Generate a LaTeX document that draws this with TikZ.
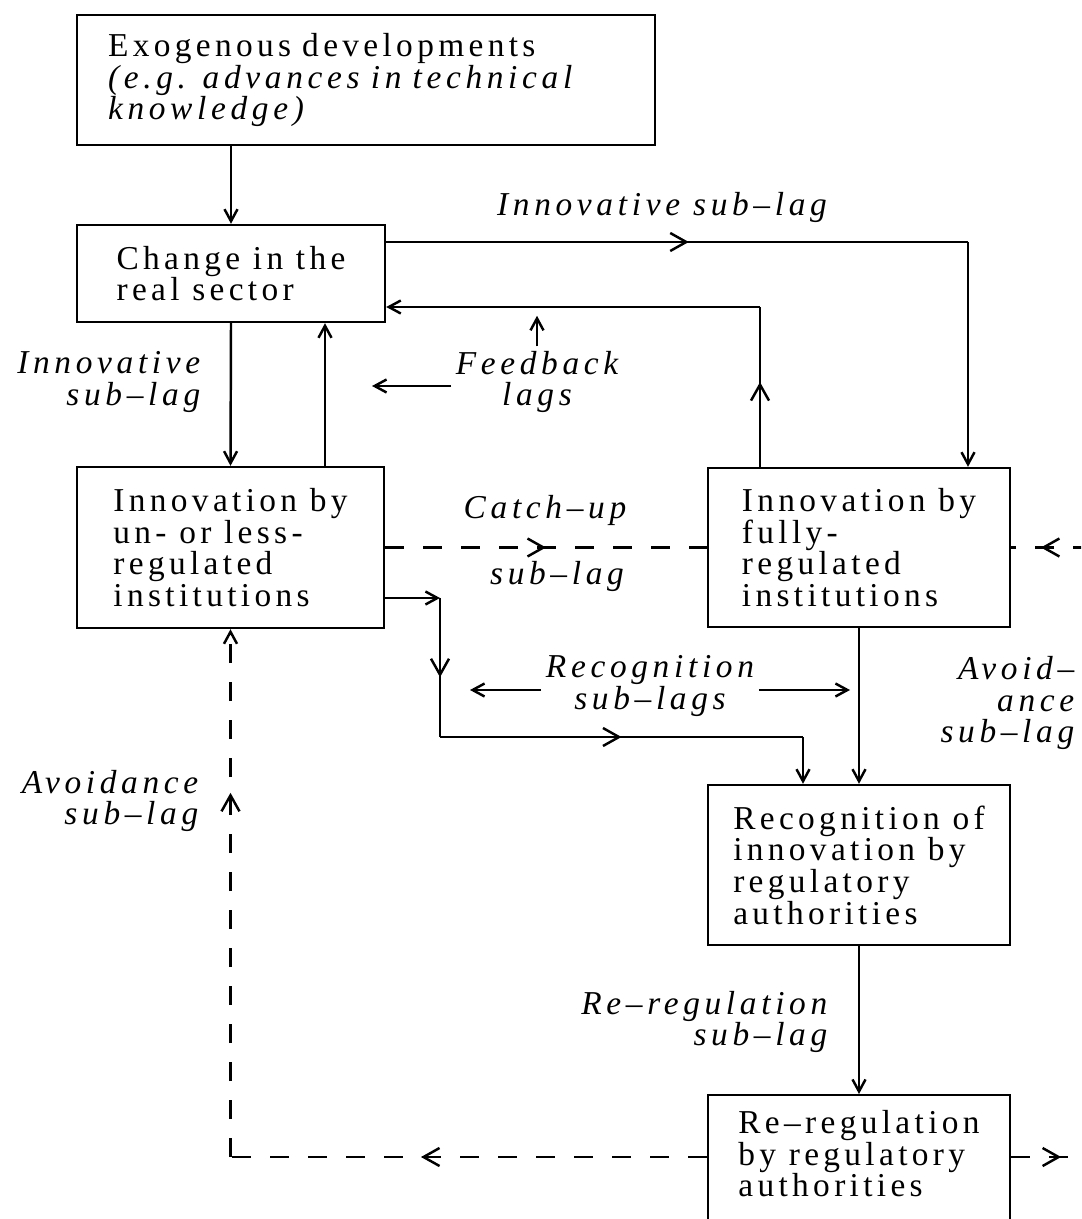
\documentclass[tikz,border=0pt]{standalone}
\usepackage{fontspec}
\setmainfont{Liberation Serif}[LetterSpace=13]
\newfontfamily\lagfont{Liberation Serif}[LetterSpace=14]
\usetikzlibrary{arrows.meta,decorations.markings}
\begin{document}
\begin{tikzpicture}[x=0.02cm,y=-0.02cm,line width=1.4pt,
  >={Straight Barb[length=0.24cm,width=0.26cm]},
  box/.style={draw,rectangle,align=left,inner xsep=0.4cm,inner ysep=0.3cm,
    font=\fontsize{19}{18}\selectfont},
  lag/.style={font=\lagfont\itshape\fontsize{19}{18}\selectfont,inner sep=2pt},
  midarr/.style={postaction={decorate},decoration={markings,
    mark=at position #1 with {\arrow{Straight Barb[length=0.32cm,width=0.36cm]}}}},
  brokenline/.style={dash pattern=on 0.38cm off 0.38cm}]
\useasboundingbox (0,0) rectangle (1081,1219);
\clip (0,0) rectangle (1081,1219);

\node[box,inner xsep=0.62cm,text width=10.32cm,minimum height=2.6cm] (1) at (366,80)
  {Exogenous developments\\{\lagfont\itshape (e.g. advances in technical}\\{\lagfont\itshape knowledge)}};
\node[box,minimum width=6.16cm,minimum height=1.94cm] (2) at (231,273.5) {Change in the\\real sector};
\node[box,minimum width=6.14cm,minimum height=3.22cm] (3) at (230.5,547.5) {Innovation by\\un- or less-\\regulated\\institutions};
\node[box,minimum width=6.04cm,minimum height=3.18cm] (4) at (859,547.5) {Innovation by\\fully-\\regulated\\institutions};
\node[box,minimum width=6.04cm,minimum height=3.2cm] (5) at (859,865) {Recognition of\\innovation by\\regulatory\\authorities};
\node[box,minimum width=6.04cm,anchor=north] (6) at (859,1094) {Re\textendash regulation\\by regulatory\\authorities\\\strut\\\strut};

% labels
\node[lag] (t) at (662,207) {Innovative sub\textendash lag};
\node[lag,align=right,anchor=east] (l) at (205,382) {Innovative\\sub\textendash lag};
\node[lag,align=center] (fb) at (537,382) {Feedback\\lags};
\node[lag] (cu) at (545,510) {Catch\textendash up};
\node[lag] (cs) at (557,576) {sub\textendash lag};
\node[lag,align=center] (rc) at (650,686) {Recognition\\sub\textendash lags};
\node[lag,align=right,anchor=east] (ar) at (1079,703) {Avoid\textendash\\ance\\sub\textendash lag};
\node[lag,align=right,anchor=east] (al) at (203,801) {Avoidance\\sub\textendash lag};
\node[lag,align=right,anchor=east] (rr) at (832,1022) {Re\textendash regulation\\sub\textendash lag};

\coordinate (a) at (968,242);
\coordinate (b) at (760,307);
\coordinate (c) at (325,400);
\coordinate (fbl) at (372,386);
\coordinate (e) at (1130,547.5);
\coordinate (f) at (440,598);
\coordinate (g) at (440,737);
\coordinate (h) at (803,737);
\coordinate (rcl) at (470,690);
\coordinate (rcr) at (850,690);
\coordinate (k) at (230.5,1157);
\coordinate (m) at (1130,1157);

% solid connectors
\path[draw,->] (1.south -| 2) -- (2.north);
\path[draw,midarr=0.52] (2.east |- a) -- (a);
\path[draw,->] (a) -- (4.north -| a);
\path[draw,midarr=0.53] (4.north -| b) -- (b);
\path[draw,->] (b) -- (2.east |- b);
\path[draw,->] (2.south) -- (3.north);
\path[draw,->] (3.north -| c) -- (2.south -| c);
\path[draw,->,shorten >=5pt] (fb.north) -- (fb.north |- b);
\path[draw,->] (fb.west |- fbl) -- (fbl);
\path[draw,->] (3.east |- f) -- (f);
\path[draw,midarr=0.57] (f) -- (g);
\path[draw,midarr=0.5] (g) -- (h);
\path[draw,->] (h) -- (5.north -| h);
\path[draw,->] (4.south) -- (5.north);
\path[draw,->] (rc.west |- rcl) -- (rcl);
\path[draw,->] (rc.east |- rcr) -- (rcr);
\path[draw,->] (5.south) -- (6.north);

% dashed connectors
\path[draw,brokenline,midarr=0.5] (3.east) -- (4.west);
\path[draw,brokenline,midarr=0.75] (e) -- (4.east);
\path[draw,brokenline,midarr=0.6] (6.west |- k) -- (k);
\path[draw,brokenline,->,midarr=0.69] (k) -- (3.south);
\path[draw,brokenline,midarr=0.42] (6.east |- k) -- (m);
\end{tikzpicture}
\end{document}
